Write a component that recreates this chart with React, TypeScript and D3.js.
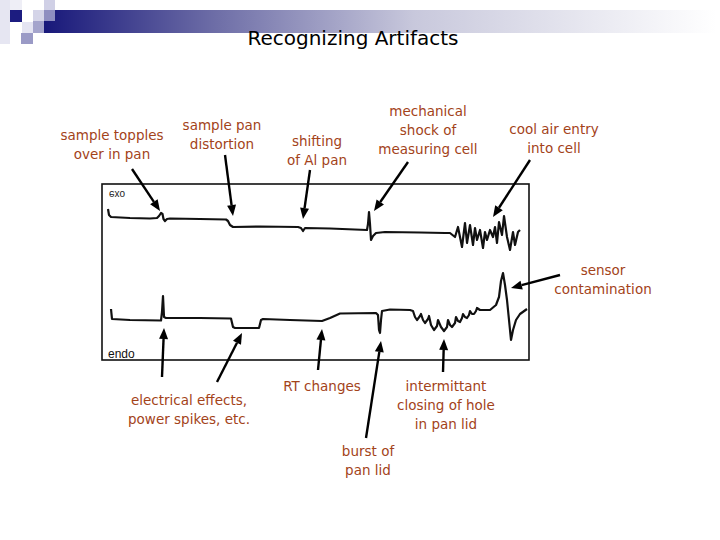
import React from 'react';
import * as d3 from 'd3';

// exo trace (upper curve): x = time units, y = signal units
const exoX = [6, 7, 9, 28, 48, 55, 57, 59, 60.5, 61.5, 63, 65, 68, 98, 124, 126, 128, 131, 158, 196, 199, 201, 203, 228, 265, 266, 267, 268, 269, 271, 274, 283, 318, 343,
  348, 353, 356, 360, 363, 365, 368, 371, 373, 375, 378, 381, 383, 385, 388, 391, 393, 395, 397, 400, 402, 405, 408, 411, 413, 416, 418];
const exoY = [151, 145, 143, 142, 141.5, 142, 144, 147, 146, 141, 139, 141, 141.5, 141, 140.5, 139, 135, 133, 133.5, 133, 132, 129, 132, 131.5, 130, 136, 148, 136, 120, 124, 127, 128, 127.5, 127,
  127, 123, 133, 113, 137, 117, 135, 115, 132, 120, 130, 112, 128, 120, 130, 123, 133, 117, 138, 125, 144, 123, 110, 128, 115, 128, 130];

// endo trace (lower curve)
const endoX = [9, 10, 28, 59, 60, 61, 62, 64, 98, 129, 131, 133, 157, 159, 161, 188, 220, 228, 238, 274, 276, 277, 278, 279, 280, 288, 308,
  311, 313, 315, 318, 319, 321, 323, 326, 327, 329, 332, 335, 336, 339, 342, 345, 346, 348, 350, 353, 354, 356, 358, 360, 361, 363, 365, 367, 368, 370, 372, 374, 375,
  378, 388, 394, 397, 399, 401, 403, 405, 407, 409, 411, 414, 418, 425];
const endoY = [51, 41, 40, 39.5, 48, 64, 43, 42, 42, 41.5, 33, 32, 32, 40, 41, 40, 39, 42, 46.5, 47, 45, 30, 27, 40, 49, 50.5, 50,
  49, 43, 40, 44, 46, 40, 37, 41, 44, 35, 30, 34, 40, 33, 29, 33, 40, 35, 33, 37, 43, 39, 38, 42, 46, 43, 42, 45, 49, 46, 46, 49, 52,
  50, 50, 55, 63, 79, 87, 75, 60, 40, 20, 30, 40, 46, 51];

// annotations
const noteLines = [
  ['sample topples', 'over in pan'],
  ['sample pan', 'distortion'],
  ['shifting', 'of Al pan'],
  ['mechanical', 'shock of', 'measuring cell'],
  ['cool air entry', 'into cell'],
  ['sensor', 'contamination'],
  ['electrical effects,', 'power spikes, etc.'],
  ['RT changes'],
  ['intermittant', 'closing of hole', 'in pan lid'],
  ['burst of', 'pan lid'],
];
const notePos = [
  [112, 140], [222, 130], [317, 146], [428, 116], [554, 134], [603, 275], [189, 405], [322, 391], [446, 391], [368, 456],
];
// arrows: [tailX, tailY, tipX, tipY] in data units
const arrowTails = [[30, 191], [123, 205], [208, 190], [306, 198], [428, 200], [458, 85], [60, -17], [115, -22], [216, -10], [264, -78], [341, -12]];
const arrowTips = [[58, 149], [131, 144], [201, 141], [272, 149], [391, 143], [409, 72], [62, 32], [140, 27], [220, 31], [279, 19], [342, 21]];

const W = 720, H = 540;
const box = { left: 102, right: 529, top: 184, bottom: 360 };
const BROWN = '#a3431a';
const FONT = '"DejaVu Sans", sans-serif';

const App = () => {
  const x = d3.scaleLinear().domain([0, 427]).range([box.left, box.right]);
  const y = d3.scaleLinear().domain([0, 176]).range([box.bottom, box.top]);

  const exoPath = d3.line<number>().x(d => x(d)).y((d, i) => y(exoY[i]))(exoX);
  const endoPath = d3.line<number>().x(d => x(d)).y((d, i) => y(endoY[i]))(endoX);

  const arrows = arrowTails.map((t, i) => {
    const x1 = x(t[0]), y1 = y(t[1]);
    const x2 = x(arrowTips[i][0]), y2 = y(arrowTips[i][1]);
    const a = Math.atan2(y2 - y1, x2 - x1);
    const len = 11, half = 4.5;
    const bx = x2 - len * Math.cos(a), by = y2 - len * Math.sin(a);
    const head = [
      [x2, y2],
      [bx + half * Math.sin(a), by - half * Math.cos(a)],
      [bx - half * Math.sin(a), by + half * Math.cos(a)],
    ];
    return { x1, y1, bx, by, head };
  });

  return (
    <svg width={W} height={H} style={{ position: 'absolute', left: 0, top: 0, background: '#fff' }}>
      <defs>
        <linearGradient id="bar" x1="0" x2="1" y1="0" y2="0">
          <stop offset="0" stopColor="#18187a" />
          <stop offset="0.25" stopColor="#6c6ca6" />
          <stop offset="0.55" stopColor="#c8c8dc" />
          <stop offset="1" stopColor="#ffffff" />
        </linearGradient>
      </defs>

      {/* header decoration */}
      <rect x={44} y={10} width={672} height={23} fill="url(#bar)" />
      <rect x={0} y={0} width={10} height={44} fill="#e6e6f2" />
      <rect x={10} y={0} width={12} height={10} fill="#eeeef6" />
      <rect x={10} y={10} width={12} height={12} fill="#1c1c80" />
      <rect x={22} y={22} width={11} height={11} fill="#e4e4f2" />
      <rect x={33} y={10} width={11} height={11} fill="#d4d4e8" />
      <rect x={44} y={0} width={11} height={10} fill="#d0d0e6" />
      <rect x={44} y={10} width={11} height={11} fill="#8e8ec0" />
      <rect x={33} y={21} width={11} height={12} fill="#a4a4cc" />
      <rect x={21} y={33} width={12} height={11} fill="#9a9ac6" />

      <text x={353} y={45} textAnchor="middle" fontFamily={FONT} fontSize={20} fill="#000">Recognizing Artifacts</text>

      {/* DSC frame */}
      <rect x={box.left} y={box.top} width={box.right - box.left} height={box.bottom - box.top}
        fill="none" stroke="#111" strokeWidth={1.6} />
      <text transform={`translate(109,193.5) scale(1,-1)`} dominantBaseline="middle"
        fontFamily='"Liberation Sans", Arial, sans-serif' fontSize={10} fill="#222">exo</text>
      <text x={108} y={358} fontFamily='"Liberation Sans", Arial, sans-serif' fontSize={12} fill="#111">endo</text>

      <path d={exoPath || ''} fill="none" stroke="#111" strokeWidth={2.2} strokeLinejoin="round" />
      <path d={endoPath || ''} fill="none" stroke="#111" strokeWidth={2.2} strokeLinejoin="round" />

      {/* arrows */}
      {arrows.map((a, i) => (
        <g key={i}>
          <line x1={a.x1} y1={a.y1} x2={a.bx} y2={a.by} stroke="#000" strokeWidth={2.4} />
          <polygon points={a.head.map(p => p.join(',')).join(' ')} fill="#000" />
        </g>
      ))}

      {/* labels */}
      {noteLines.map((lines, i) => (
        <text key={i} x={notePos[i][0]} y={notePos[i][1]} textAnchor="middle" fontFamily={FONT} fontSize={13.5} fill={BROWN}>
          {lines.map((l, j) => (
            <tspan key={j} x={notePos[i][0]} dy={j === 0 ? 0 : 19}>{l}</tspan>
          ))}
        </text>
      ))}
    </svg>
  );
};

export default App;
